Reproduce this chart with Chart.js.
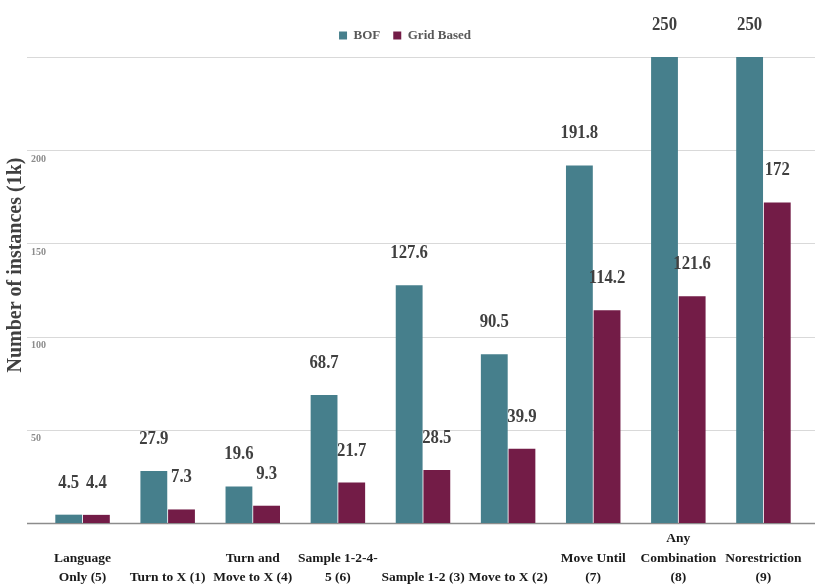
<!DOCTYPE html>
<html>
<head>
<meta charset="utf-8">
<script src="https://cdn.jsdelivr.net/npm/chart.js@4/dist/chart.umd.min.js"></script>
<style>
    html, body { margin: 0; padding: 0; background: #ffffff; }
    #wrap { width: 815px; height: 588px; }
</style>
</head>
<body>
<div id="wrap"><canvas id="chart" width="815" height="588"></canvas></div>
<script>
// labels padded with blank lines so they sit on the bottom line like the original
const categories = [
    ["", "Language", "Only (5)"],
    ["", "", "Turn to X (1)"],
    ["", "Turn and", "Move to X (4)"],
    ["", "Sample 1-2-4-", "5 (6)"],
    ["", "", "Sample 1-2 (3)"],
    ["", "", "Move to X (2)"],
    ["", "Move Until", "(7)"],
    ["Any", "Combination", "(8)"],
    ["", "Norestriction", "(9)"]
];
const bofValues = [4.5, 27.9, 19.6, 68.7, 127.6, 90.5, 191.8, 250, 250];
const gridValues = [4.4, 7.3, 9.3, 21.7, 28.5, 39.9, 114.2, 121.6, 172];
const yTicks = [0, 50, 100, 150, 200, 250];

const serif = "'Liberation Serif', 'DejaVu Serif', serif";

// grid lines run past the plot area on both sides
const gridLines = {
    id: 'gridLines',
    beforeDatasetsDraw(chart) {
        const ctx = chart.ctx;
        const y = chart.scales.y;
        ctx.save();
        yTicks.forEach(v => {
            const py = Math.round(y.getPixelForValue(v)) + 0.5;
            ctx.beginPath();
            ctx.strokeStyle = v === 0 ? '#8c8c8c' : '#d9d9d9';
            ctx.lineWidth = v === 0 ? 1.5 : 1;
            ctx.moveTo(27, py);
            ctx.lineTo(chart.width, py);
            ctx.stroke();
        });
        ctx.restore();
    }
};

// value labels above each bar
const valueLabels = {
    id: 'valueLabels',
    afterDatasetsDraw(chart) {
        const ctx = chart.ctx;
        ctx.save();
        ctx.font = "bold 19px " + serif;
        ctx.fillStyle = '#404040';
        ctx.textAlign = 'center';
        ctx.textBaseline = 'middle';
        chart.data.datasets.forEach((ds, i) => {
            chart.getDatasetMeta(i).data.forEach((bar, j) => {
                ctx.save();
                ctx.translate(bar.x, bar.y - 32);
                ctx.scale(0.88, 1);
                ctx.fillText(String(ds.data[j]), 0, 0);
                ctx.restore();
            });
        });
        ctx.restore();
    }
};

// a bit more room under the legend
const legendGap = {
    id: 'legendGap',
    afterInit(chart) {
        const fit = chart.legend.fit;
        chart.legend.fit = function () {
            fit.call(this);
            this.height += 5;
        };
    }
};

let ctx = document.getElementById('chart').getContext('2d');
let chart = new Chart(ctx, {
    type: 'bar',
    data: {
        labels: categories,
        datasets: [{
            label: 'BOF',
            data: bofValues,
            backgroundColor: '#467f8c',
            borderWidth: 0
        }, {
            label: 'Grid Based',
            data: gridValues,
            backgroundColor: '#731c47',
            borderWidth: 0
        }]
    },
    options: {
        responsive: false,
        animation: false,
        layout: { padding: { left: 4, right: 9, top: 16, bottom: -5 } },
        datasets: {
            bar: { barPercentage: 0.97, categoryPercentage: 0.65 }
        },
        plugins: {
            tooltip: { enabled: false },
            legend: {
                position: 'top',
                labels: {
                    boxWidth: 8,
                    boxHeight: 8,
                    padding: 13,
                    color: '#595959',
                    font: { family: serif, size: 13, weight: 'bold' }
                }
            }
        },
        scales: {
            x: {
                grid: { display: false, drawTicks: false },
                border: { display: false },
                ticks: {
                    autoSkip: false,
                    maxRotation: 0,
                    minRotation: 0,
                    padding: 5,
                    color: '#1a1a1a',
                    font: { family: serif, size: 13.5, weight: 'bold', lineHeight: 1.48 }
                }
            },
            y: {
                min: 0,
                max: 250,
                grid: { display: false, drawTicks: false },
                border: { display: false },
                ticks: {
                    stepSize: 50,
                    mirror: true,
                    padding: -9,
                    labelOffset: 9,
                    color: '#8c8c8c',
                    font: { family: serif, size: 10, weight: 'bold' },
                    callback: v => (v === 0 || v === 250) ? '' : v
                },
                title: {
                    display: true,
                    // leading spaces lift the title a little, as in the original
                    text: '          Number of instances (1k)',
                    color: '#404040',
                    font: { family: serif, size: 20, weight: 'bold' },
                    padding: { top: 0, bottom: 30 }
                }
            }
        }
    },
    plugins: [gridLines, valueLabels, legendGap]
});
</script>
</body>
</html>
